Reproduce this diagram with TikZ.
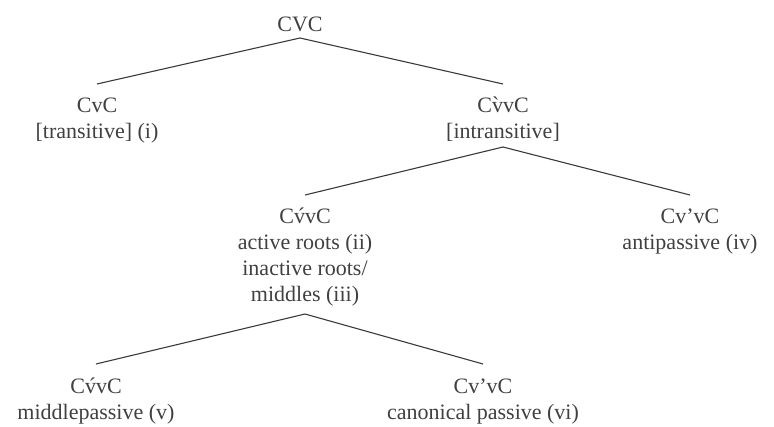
\documentclass[tikz,border=0pt]{standalone}
\usepackage{fontspec}
\setmainfont{Liberation Serif}
\definecolor{ink}{HTML}{404040}
\definecolor{branch}{HTML}{3A3A3A}
\begin{document}
\begin{tikzpicture}[x=1pt,y=-1pt,
  lbl/.style={anchor=base,inner sep=0pt,text=ink,font=\fontsize{22}{26}\selectfont},
  edge/.style={draw=branch,line width=1.1pt}]
\useasboundingbox (0,0) rectangle (774,426);

% root
\node[lbl] (root) at (300,31) {CVC};

% first split
\node[lbl] (tr)  at (97,112)  {CvC};
\node[lbl] (trb) at (97,138)  {[transitive] (i)};
\node[lbl] (in)  at (503,112) {C\`{v}vC};
\node[lbl] (inb) at (503,138) {[intransitive]};

% second split
\node[lbl] (ac)  at (305,223) {C\'{v}vC};
\node[lbl] (acb) at (305,249) {active roots (ii)};
\node[lbl] (acc) at (305,275) {inactive roots/};
\node[lbl] (acd) at (305,301) {middles (iii)};
\node[lbl] (an)  at (690,223) {Cv’vC};
\node[lbl] (anb) at (690,249) {antipassive (iv)};

% third split
\node[lbl] (mp)  at (96,393)  {C\'{v}vC};
\node[lbl] (mpb) at (96,419)  {middlepassive (v)};
\node[lbl] (cp)  at (483,393) {Cv’vC};
\node[lbl] (cpb) at (483,419) {canonical passive (vi)};

% branches
\draw[edge] ([yshift=-7pt]root.base) -- ([yshift=28pt]tr.base);
\draw[edge] ([yshift=-7pt]root.base) -- ([yshift=28pt]in.base);
\draw[edge] ([yshift=-9pt]inb.base) -- ([yshift=28pt]ac.base);
\draw[edge] ([yshift=-9pt]inb.base) -- ([yshift=28pt]an.base);
\draw[edge] ([yshift=-13pt]acd.base) -- ([yshift=29pt]mp.base);
\draw[edge] ([yshift=-13pt]acd.base) -- ([yshift=29pt]cp.base);
\end{tikzpicture}
\end{document}
